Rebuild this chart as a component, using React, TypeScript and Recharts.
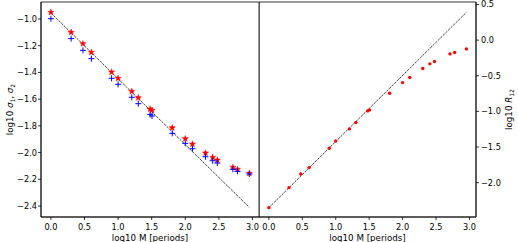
import React from "react";
import { ScatterChart, Scatter, XAxis, YAxis, ReferenceLine, ReferenceArea, Label } from "recharts";

const logM = [0, 0.301, 0.477, 0.602, 0.903, 1.0, 1.204, 1.301, 1.477, 1.505, 1.806, 2.0, 2.107, 2.301, 2.408, 2.477, 2.709, 2.778, 2.954];
const sigma1 = [-0.95, -1.1, -1.185, -1.25, -1.397, -1.444, -1.542, -1.589, -1.674, -1.684, -1.814, -1.896, -1.936, -2.003, -2.036, -2.056, -2.11, -2.125, -2.155];
const sigma2 = [-0.998, -1.147, -1.235, -1.297, -1.444, -1.489, -1.586, -1.634, -1.714, -1.726, -1.856, -1.931, -1.971, -2.031, -2.061, -2.078, -2.125, -2.14, -2.16];
const r12 = [-2.351, -2.07, -1.878, -1.789, -1.518, -1.415, -1.246, -1.157, -0.993, -0.979, -0.745, -0.596, -0.525, -0.399, -0.333, -0.3, -0.193, -0.174, -0.123];

const fitX = [0, 2.954];
const fitSigma = [-0.955, -2.41];
const fitR = [-2.351, 0.39];

const xTicks = [0, 0.5, 1.0, 1.5, 2.0, 2.5, 3.0];
const leftYTicks = [-1.0, -1.2, -1.4, -1.6, -1.8, -2.0, -2.2, -2.4];
const rightYTicks = [0.5, 0.0, -0.5, -1.0, -1.5, -2.0];

const s1Data = logM.map((x, i) => ({ x, y: sigma1[i] }));
const s2Data = logM.map((x, i) => ({ x, y: sigma2[i] }));
const rData = logM.map((x, i) => ({ x, y: r12[i] }));
const fitSigmaSeg = fitX.map((x, i) => ({ x, y: fitSigma[i] }));
const fitRSeg = fitX.map((x, i) => ({ x, y: fitR[i] }));

const FONT = "DejaVu Sans";
const TICK_FS = 8.2;
const LABEL_FS = 8.7;
const X_DOMAIN: [number, number] = [-0.1475, 3.0975];
const LY_DOMAIN: [number, number] = [-2.482, -0.873];
const RY_DOMAIN: [number, number] = [-2.482, 0.535];
const fmt = (v: number) => (v < 0 ? "\u2212" + Math.abs(v).toFixed(1) : v.toFixed(1));
const tickStyle = { fill: "#000", fontSize: TICK_FS, fontFamily: FONT };

const Star = (props: any) => {
  const { cx, cy } = props;
  if (cx == null || cy == null) return <g />;
  const R = 3.3, r = 1.4;
  const pts: string[] = [];
  for (let i = 0; i < 10; i++) {
    const a = ((-90 + i * 36) * Math.PI) / 180;
    const rad = i % 2 === 0 ? R : r;
    pts.push(`${cx + rad * Math.cos(a)},${cy + rad * Math.sin(a)}`);
  }
  return <polygon points={pts.join(" ")} fill="#ff0000" stroke="#ff0000" strokeWidth={0.4} />;
};

const Plus = (props: any) => {
  const { cx, cy } = props;
  if (cx == null || cy == null) return <g />;
  const h = 3;
  return (
    <g>
      <line x1={cx - h} x2={cx + h} y1={cy} y2={cy} stroke="#0000ff" strokeWidth={1} />
      <line x1={cx} x2={cx} y1={cy - h} y2={cy + h} stroke="#0000ff" strokeWidth={1} />
    </g>
  );
};

const Dot = (props: any) => {
  const { cx, cy } = props;
  if (cx == null || cy == null) return <g />;
  return <circle cx={cx} cy={cy} r={1.7} fill="#ff0000" />;
};

const XLabel = (props: any) => {
  const { x, width } = props.viewBox;
  return (
    <text x={x + width / 2} y={238.3} textAnchor="middle" dominantBaseline="central" fontSize={LABEL_FS} fontFamily={FONT} fill="#000">
      log10 M [periods]
    </text>
  );
};

const LeftYLabel = (props: any) => {
  const { x, y, height } = props.viewBox;
  const cx = x + 10;
  const cy = y + height / 2;
  return (
    <text x={cx} y={cy} transform={`rotate(-90 ${cx} ${cy})`} textAnchor="middle" dominantBaseline="central" fontSize={LABEL_FS} fontFamily={FONT} fill="#000">
      log10 <tspan fontStyle="italic">σ</tspan>
      <tspan fontSize={6} dy={2}>1</tspan>
      <tspan dy={-2}>, </tspan>
      <tspan fontStyle="italic">σ</tspan>
      <tspan fontSize={6} dy={2}>2</tspan>
    </text>
  );
};

const RightYLabel = (props: any) => {
  const { x, y, height } = props.viewBox;
  const cx = x + 33;
  const cy = y + height / 2;
  return (
    <text x={cx} y={cy} transform={`rotate(-90 ${cx} ${cy})`} textAnchor="middle" dominantBaseline="central" fontSize={LABEL_FS} fontFamily={FONT} fill="#000">
      log10 <tspan fontStyle="italic">R</tspan>
      <tspan fontSize={6} dy={2}>12</tspan>
    </text>
  );
};

const spine = { stroke: "#000", strokeWidth: 0.8 };

export default function App() {
  return (
    <div style={{ position: "absolute", left: 0, top: 0, width: 518, height: 242, background: "#fff" }}>
      <div style={{ position: "absolute", left: 0, top: 0 }}>
        <ScatterChart width={260} height={242} margin={{ top: 2, right: 1, bottom: 0, left: 0 }}>
          <XAxis xAxisId="b" type="number" dataKey="x" domain={X_DOMAIN} ticks={xTicks} tickFormatter={fmt} height={25} tickSize={3} tickMargin={4} axisLine={spine} tickLine={spine} tick={tickStyle} allowDataOverflow interval={0}>
            <Label content={<XLabel />} />
          </XAxis>
          <YAxis yAxisId="l" type="number" dataKey="y" domain={LY_DOMAIN} ticks={leftYTicks} tickFormatter={fmt} width={41} tickSize={3} tickMargin={1} axisLine={spine} tickLine={spine} tick={tickStyle} allowDataOverflow interval={0}>
            <Label content={<LeftYLabel />} />
          </YAxis>
          <ReferenceArea xAxisId="b" yAxisId="l" x1={X_DOMAIN[0]} x2={X_DOMAIN[1]} y1={LY_DOMAIN[0]} y2={LY_DOMAIN[1]} fill="none" fillOpacity={0} stroke="#000" strokeWidth={0.8} ifOverflow="visible" />
          <ReferenceLine xAxisId="b" yAxisId="l" segment={fitSigmaSeg} stroke="#111" strokeWidth={0.8} strokeDasharray="2.6 1" />
          <Scatter xAxisId="b" yAxisId="l" data={s1Data} shape={<Star />} isAnimationActive={false} />
          <Scatter xAxisId="b" yAxisId="l" data={s2Data} shape={<Plus />} isAnimationActive={false} />
        </ScatterChart>
      </div>
      <div style={{ position: "absolute", left: 259, top: 0 }}>
        <ScatterChart width={259} height={242} margin={{ top: 2, right: 0, bottom: 0, left: 0 }}>
          <XAxis xAxisId="b" type="number" dataKey="x" domain={X_DOMAIN} ticks={xTicks} tickFormatter={fmt} height={25} tickSize={3} tickMargin={4} axisLine={spine} tickLine={spine} tick={tickStyle} allowDataOverflow interval={0}>
            <Label content={<XLabel />} />
          </XAxis>
          <YAxis yAxisId="r" orientation="right" type="number" dataKey="y" domain={RY_DOMAIN} ticks={rightYTicks} tickFormatter={fmt} width={42} tickSize={3} tickMargin={2} axisLine={spine} tickLine={spine} tick={tickStyle} allowDataOverflow interval={0}>
            <Label content={<RightYLabel />} />
          </YAxis>
          <ReferenceArea xAxisId="b" yAxisId="r" x1={X_DOMAIN[0]} x2={X_DOMAIN[1]} y1={RY_DOMAIN[0]} y2={RY_DOMAIN[1]} fill="none" fillOpacity={0} stroke="#000" strokeWidth={0.8} ifOverflow="visible" />
          <ReferenceLine xAxisId="b" yAxisId="r" segment={fitRSeg} stroke="#111" strokeWidth={0.8} strokeDasharray="2.6 1" />
          <Scatter xAxisId="b" yAxisId="r" data={rData} shape={<Dot />} isAnimationActive={false} />
        </ScatterChart>
      </div>
    </div>
  );
}
